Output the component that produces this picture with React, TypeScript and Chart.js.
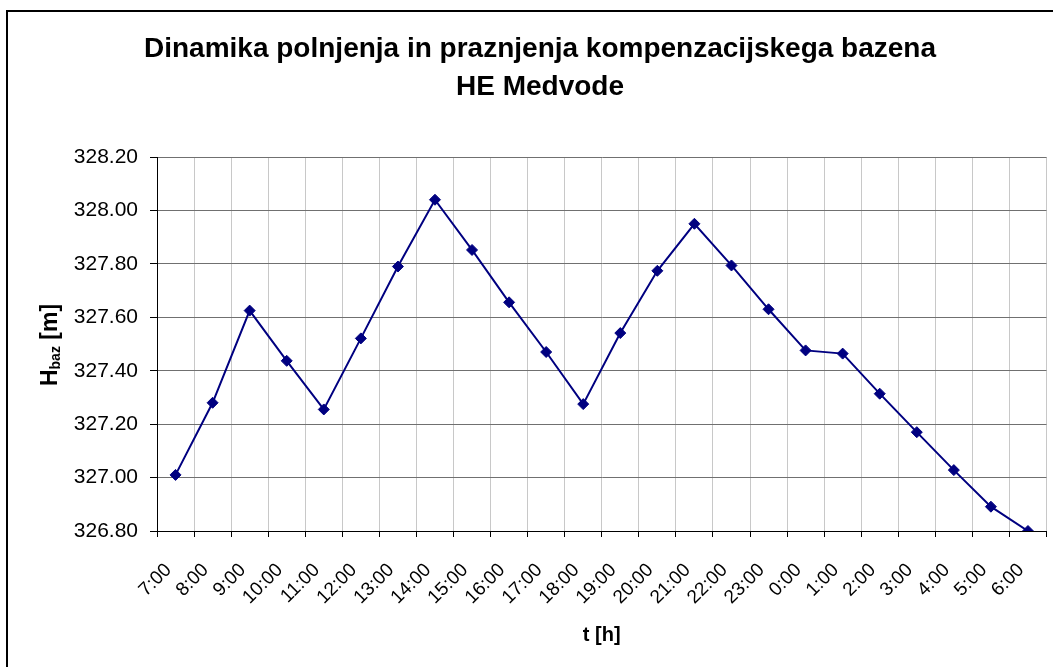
import React, { useEffect, useRef } from "react";
import { Chart, registerables } from "chart.js";

Chart.register(...registerables);

const FONT = "'Liberation Sans', Arial, sans-serif";

const TITLE_LINES = [
  "Dinamika polnjenja in praznjenja kompenzacijskega bazena",
  "HE Medvode",
];

const CATEGORIES = [
  "7:00", "8:00", "9:00", "10:00", "11:00", "12:00", "13:00", "14:00",
  "15:00", "16:00", "17:00", "18:00", "19:00", "20:00", "21:00", "22:00",
  "23:00", "0:00", "1:00", "2:00", "3:00", "4:00", "5:00", "6:00",
];

const H_BAZ = [
  327.01, 327.28, 327.625, 327.437, 327.255, 327.521, 327.79, 328.04,
  327.852, 327.656, 327.47, 327.275, 327.541, 327.774, 327.95, 327.794,
  327.63, 327.476, 327.464, 327.314, 327.17, 327.028, 326.891, 326.8,
];

const Y_MIN = 326.8;
const Y_MAX = 328.2;
const Y_STEP = 0.2;

const X_TITLE = "t [h]";
const Y_TITLE_MAIN = "H";
const Y_TITLE_SUB = "baz";
const Y_TITLE_UNIT = " [m]";

const decorPlugin = {
  id: "decor",
  afterDraw(chart: any) {
    const ctx = chart.ctx as CanvasRenderingContext2D;
    ctx.save();
    // outer chart border
    ctx.strokeStyle = "#000";
    ctx.lineWidth = 2;
    ctx.strokeRect(7, 11, 1100, 720);

    // chart title
    ctx.fillStyle = "#000";
    ctx.font = `bold 28px ${FONT}`;
    ctx.textAlign = "center";
    ctx.textBaseline = "alphabetic";
    ctx.fillText(TITLE_LINES[0], 540, 57);
    ctx.fillText(TITLE_LINES[1], 540, 95);

    // y axis title with subscript
    const mainFont = `bold 23px ${FONT}`;
    const subFont = `bold 14px ${FONT}`;
    ctx.font = mainFont;
    const wMain = ctx.measureText(Y_TITLE_MAIN).width;
    const wUnit = ctx.measureText(Y_TITLE_UNIT).width;
    ctx.font = subFont;
    const wSub = ctx.measureText(Y_TITLE_SUB).width;
    const total = wMain + wSub + wUnit;
    ctx.translate(47, 345);
    ctx.rotate(-Math.PI / 2);
    ctx.textAlign = "left";
    let x = -total / 2;
    ctx.font = mainFont;
    ctx.fillText(Y_TITLE_MAIN, x, 10);
    x += wMain;
    ctx.font = subFont;
    ctx.fillText(Y_TITLE_SUB, x, 13);
    x += wSub;
    ctx.font = mainFont;
    ctx.fillText(Y_TITLE_UNIT, x, 10);
    ctx.restore();
  },
};

export default function App() {
  const ref = useRef<HTMLCanvasElement | null>(null);

  useEffect(() => {
    if (!ref.current) return;
    const chart = new Chart(ref.current, {
      type: "line",
      data: {
        labels: CATEGORIES,
        datasets: [
          {
            data: H_BAZ,
            borderColor: "#000080",
            backgroundColor: "#000080",
            borderWidth: 2,
            pointStyle: "rectRot",
            pointRadius: 5.5,
            pointBorderWidth: 1,
            pointBackgroundColor: "#000080",
            pointBorderColor: "#000080",
            tension: 0,
            fill: false,
          },
        ],
      },
      options: {
        responsive: false,
        animation: false,
        layout: { padding: { top: 157, right: 6, bottom: 0, left: 0 } },
        plugins: {
          legend: { display: false },
          title: { display: false },
          tooltip: { enabled: false },
        },
        scales: {
          x: {
            type: "category",
            offset: true,
            grid: {
              display: true,
              offset: true,
              color: "#c8c8c8",
              lineWidth: 1,
              drawTicks: true,
              tickLength: 6,
              tickColor: "#000",
            },
            border: { display: true, color: "#000", width: 1 },
            ticks: {
              autoSkip: false,
              maxRotation: 45,
              minRotation: 45,
              padding: 22,
              labelOffset: -7,
              color: "#000",
              font: { family: FONT, size: 19 },
            },
            title: {
              display: true,
              text: X_TITLE,
              color: "#000",
              font: { family: FONT, size: 20, weight: "bold" },
              padding: { top: 0, bottom: 20 },
            },
            afterFit: (s: any) => {
              s.height = 136;
              s.paddingLeft = 0;
              s.paddingRight = 0;
            },
          },
          y: {
            min: Y_MIN,
            max: Y_MAX,
            ticks: {
              stepSize: Y_STEP,
              callback: (v: any) => Number(v).toFixed(2),
              padding: 12,
              color: "#000",
              font: { family: FONT, size: 21 },
            },
            grid: {
              color: "#707070",
              lineWidth: 1,
              tickLength: 7,
              tickColor: "#000",
            },
            border: { display: true, color: "#000", width: 1 },
            afterFit: (s: any) => {
              s.width = 157;
              s.paddingTop = 0;
              s.paddingBottom = 0;
            },
          },
        },
      } as any,
      plugins: [decorPlugin],
    });
    return () => chart.destroy();
  }, []);

  return (
    <div style={{ position: "absolute", left: 0, top: 0, width: 1053, height: 667, background: "#fff" }}>
      <canvas ref={ref} width={1053} height={667} style={{ display: "block" }} />
    </div>
  );
}
